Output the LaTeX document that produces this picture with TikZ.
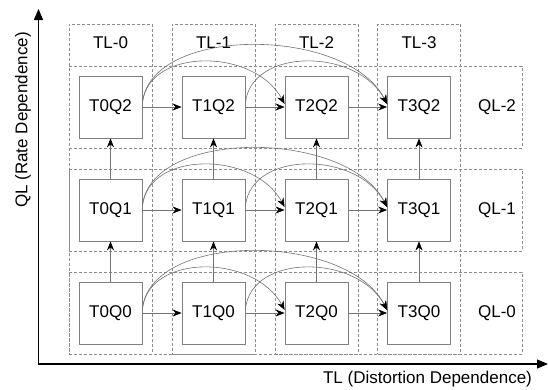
\documentclass[tikz,border=0pt]{standalone}
\usepackage{fontspec}
\setmainfont{Liberation Sans}
\usetikzlibrary{arrows.meta}
\begin{document}
\begin{tikzpicture}[x=1pt,y=-1pt,
  lbl/.style={font=\fontsize{17}{20}\selectfont, inner sep=0pt},
  tbox/.style={draw=black!50, line width=0.8pt, minimum width=63pt, minimum height=62pt, inner sep=0pt, font=\fontsize{17}{20}\selectfont},
  colbox/.style={draw=black!45, dash pattern=on 3pt off 2pt, line width=0.6pt, minimum width=83pt, minimum height=330pt, inner sep=0pt},
  rowbox/.style={draw=black!45, dash pattern=on 3pt off 2pt, line width=0.6pt, minimum width=453pt, minimum height=82pt, inner sep=0pt},
  conn/.style={draw=black!55, line width=0.6pt, -{Stealth[length=9pt,width=7pt,black]}},
  axis/.style={draw=black, line width=1.3pt, -{Triangle[length=11pt,width=9pt]}}
]
\useasboundingbox (0,0) rectangle (548,389);
% column boxes
\foreach \i/\x in {0/110.5,1/213.5,2/316.5,3/419} {
  \node[colbox] (tl\i) at (\x,189) {};
  \node[lbl] (tll\i) at (\x,43) {TL-\i};
}
% row boxes
\foreach \j/\y in {2/107,1/210,0/313} {
  \node[rowbox] (ql\j) at (295.5,\y) {};
  \node[lbl] (qll\j) at (497,\y) {QL-\j};
}
% task nodes
\foreach \i/\x in {0/110.5,1/213.5,2/316.5,3/419} {
  \foreach \j/\y in {2/107,1/210,0/313} {
    \node[tbox] (t\i\j) at (\x,\y) {T\i Q\j};
  }
}
% horizontal arrows
\foreach \j in {0,1,2} {
  \draw[conn] (t0\j.east) -- (t1\j.west);
  \draw[conn] (t1\j.east) -- (t2\j.west);
  \draw[conn] (t2\j.east) -- (t3\j.west);
}
% vertical arrows
\foreach \i in {0,1,2,3} {
  \draw[conn] (t\i0.north) -- (t\i1.south);
  \draw[conn] (t\i1.north) -- (t\i2.south);
}
% curved arrows
\foreach \j in {0,1,2} {
  \draw[conn] ([yshift=4pt]t0\j.east) .. controls +(6,-56) and +(-30,-56) .. ([yshift=3pt]t2\j.west);
  \draw[conn] ([yshift=4pt]t0\j.east) .. controls +(8,-78) and +(-40,-78) .. ([yshift=3pt]t3\j.west);
  \draw[conn] ([yshift=4pt]t1\j.east) .. controls +(6,-56) and +(-30,-56) .. ([yshift=3pt]t3\j.west);
}
% axes
\coordinate (orig) at (38.5,364);
\coordinate (ytip) at (38.5,9);
\coordinate (xtip) at (548,364);
\draw[axis] (orig) -- (ytip);
\draw[axis] ([xshift=-0.65pt]orig) -- (xtip);
\node[lbl, rotate=90] (ylab) at (23,120) {QL (Rate Dependence)};
\node[lbl] (xlab) at (427.5,379) {TL (Distortion Dependence)};
\end{tikzpicture}
\end{document}
